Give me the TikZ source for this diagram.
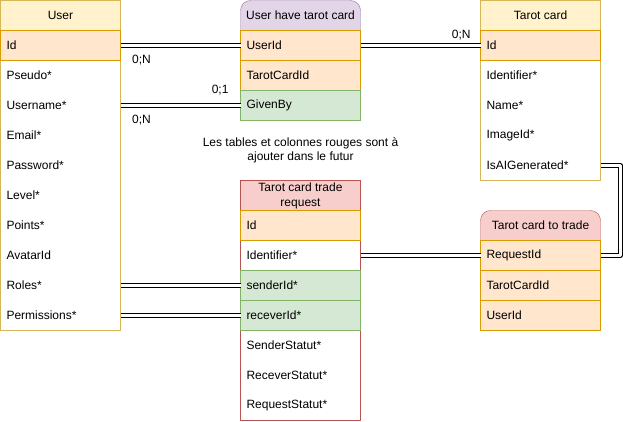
\documentclass[tikz,border=0pt]{standalone}
\usepackage{fontspec}
\setmainfont{Liberation Sans}

\definecolor{headfill}{HTML}{FFF2CC}
\definecolor{headline}{HTML}{D6B656}
\definecolor{keyfill}{HTML}{FFE6CC}
\definecolor{keyline}{HTML}{D79B00}
\definecolor{fkfill}{HTML}{D5E8D4}
\definecolor{fkline}{HTML}{82B366}
\definecolor{joinfill}{HTML}{E1D5E7}
\definecolor{joinline}{HTML}{9673A6}
\definecolor{newfill}{HTML}{F8CECC}
\definecolor{newline}{HTML}{B85450}

\begin{document}
\begin{tikzpicture}[x=1pt, y=-1pt, line join=round,
    every node/.style={font=\fontsize{12pt}{15pt}\selectfont, outer sep=0pt},
    tablehead/.style={anchor=north west, minimum width=120pt, minimum height=30pt, inner sep=0pt, align=center},
    row/.style={anchor=north west, text width=108pt, minimum height=30pt, inner xsep=6pt, inner ysep=0pt, align=left},
    keyrow/.style={row, draw=keyline, fill=keyfill},
    fkrow/.style={row, draw=fkline, fill=fkfill},
    link/.style={double, double distance=3pt, line width=1pt, line cap=butt},
    card/.style={inner sep=0pt}]

    % Define columns
    \def\colA{0}
    \def\colB{240}
    \def\colC{480}

    \useasboundingbox (-0.5,-0.5) rectangle (622.5,420.5);

    % User
    \draw[draw=headline, fill=white] (\colA,0) rectangle ++(120,330);
    \node[tablehead, fill=headfill, draw=headline] (user) at (\colA,0) {User};
    \node[keyrow] (user-id) at (\colA,30) {Id};
    \node[row] (user-pseudo) at (\colA,60) {Pseudo*};
    \node[row] (user-username) at (\colA,90) {Username*};
    \node[row] (user-email) at (\colA,120) {Email*};
    \node[row] (user-password) at (\colA,150) {Password*};
    \node[row] (user-level) at (\colA,180) {Level*};
    \node[row] (user-points) at (\colA,210) {Points*};
    \node[row] (user-avatar) at (\colA,240) {AvatarId};
    \node[row] (user-roles) at (\colA,270) {Roles*};
    \node[row] (user-permissions) at (\colA,300) {Permissions*};

    % User have tarot card
    \draw[draw=joinline, fill=joinfill, rounded corners=10pt] (\colB,0) rectangle ++(120,60);
    \node[tablehead] (uhtc) at (\colB,0) {User have tarot card};
    \node[keyrow] (uhtc-userid) at (\colB,30) {UserId};
    \node[keyrow] (uhtc-cardid) at (\colB,60) {TarotCardId};
    \node[fkrow] (uhtc-givenby) at (\colB,90) {GivenBy};

    % Tarot card
    \draw[draw=headline, fill=white] (\colC,0) rectangle ++(120,180);
    \node[tablehead, fill=headfill, draw=headline] (tc) at (\colC,0) {Tarot card};
    \node[keyrow] (tc-id) at (\colC,30) {Id};
    \node[row] (tc-identifier) at (\colC,60) {Identifier*};
    \node[row] (tc-name) at (\colC,90) {Name*};
    \node[row] (tc-image) at (\colC,120) {ImageId*};
    \node[row] (tc-isai) at (\colC,150) {IsAIGenerated*};

    % Note
    \node[card, align=center, font=\fontsize{12pt}{14pt}\selectfont] (note) at (300,150)
        {Les tables et colonnes rouges sont à\\ajouter dans le futur};

    % Tarot card trade request
    \draw[draw=newline, fill=white] (\colB,180) rectangle ++(120,240);
    \node[tablehead, fill=newfill, draw=newline] (tctr) at (\colB,180) {Tarot card trade\\request};
    \node[keyrow] (tctr-id) at (\colB,210) {Id};
    \node[row] (tctr-identifier) at (\colB,240) {Identifier*};
    \node[fkrow] (tctr-senderid) at (\colB,270) {senderId*};
    \node[fkrow] (tctr-receverid) at (\colB,300) {receverId*};
    \node[row] (tctr-senderstatut) at (\colB,330) {SenderStatut*};
    \node[row] (tctr-receverstatut) at (\colB,360) {ReceverStatut*};
    \node[row] (tctr-requeststatut) at (\colB,390) {RequestStatut*};

    % Tarot card to trade
    \draw[draw=newline, fill=newfill, rounded corners=10pt] (\colC,210) rectangle ++(120,60);
    \node[tablehead] (tctt) at (\colC,210) {Tarot card to trade};
    \node[keyrow] (tctt-requestid) at (\colC,240) {RequestId};
    \node[keyrow] (tctt-cardid) at (\colC,270) {TarotCardId};
    \node[keyrow] (tctt-userid) at (\colC,300) {UserId};

    % Links
    \draw[link] (user-id.east) -- node[card, pos=0.175, yshift=-15pt] {0;N} (uhtc-userid.west);
    \draw[link] (user-username.east)
        -- node[card, pos=0.83, yshift=15pt] {0;1}
           node[card, pos=0.175, yshift=-15pt] {0;N} (uhtc-givenby.west);
    \draw[link] (uhtc-userid.east) -- node[card, pos=0.84, yshift=10pt] {0;N} (tc-id.west);
    \draw[link] (tc-isai.east) -- ++(20,0) |- (tctt-requestid.east);
    \draw[link] (tctr-identifier.east) -- (tctt-requestid.west);
    \draw[link] (user-roles.east) -- (tctr-senderid.west);
    \draw[link] (user-permissions.east) -- (tctr-receverid.west);

\end{tikzpicture}
\end{document}
